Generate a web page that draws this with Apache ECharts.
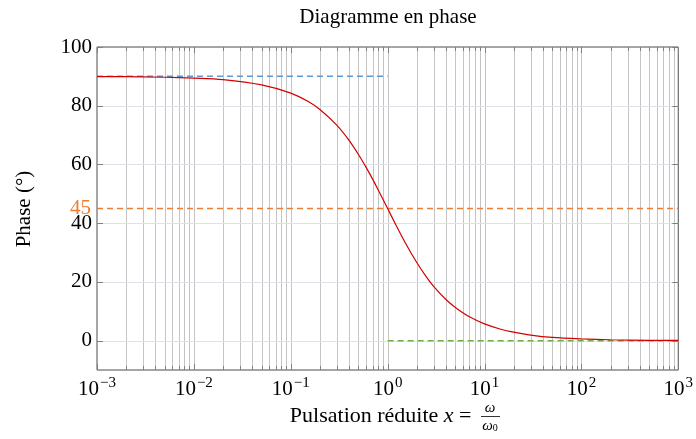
<!DOCTYPE html>
<html>
<head>
<meta charset="utf-8">
<script src="https://cdn.jsdelivr.net/npm/echarts@6/dist/echarts.min.js"></script>
<style>html,body{margin:0;padding:0;background:#fff}#c{width:696px;height:439px}</style>
</head>
<body>
<div id="c"></div>
<script>
// ---- data ----
var pulsation = [0.001, 0.002, 0.005, 0.01, 0.02, 0.05, 0.1, 0.15, 0.2, 0.3, 0.4, 0.5, 0.6, 0.7, 0.8, 1, 1.2, 1.5, 2, 2.5, 3, 4, 5, 7, 10, 15, 20, 30, 50, 100, 200, 500, 1000];
var phase     = [89.9, 89.9, 89.7, 89.4, 88.9, 87.1, 84.3, 81.5, 78.7, 73.3, 68.2, 63.4, 59.0, 55.0, 51.3, 45.0, 39.8, 33.7, 26.6, 21.8, 18.4, 14.0, 11.3, 8.1, 5.7, 3.8, 2.9, 1.9, 1.1, 0.6, 0.3, 0.1, 0.06];
var asymptoteLowX  = [0.001, 1];
var asymptoteLowY  = [90, 90];
var asymptoteHighX = [1, 1000];
var asymptoteHighY = [0, 0];
var cutoffX = [0.001, 1000];
var cutoffY = [45, 45];
var yTicks = [0, 20, 40, 60, 80, 100];
var yGridValues = [0, 20, 40, 60, 80];
var decadeExponents = [-3, -2, -1, 0, 1, 2, 3];

// tick / grid positions on the log axis (decades and their subdivisions)
var xGridValues = [];
for (var i = 0; i < decadeExponents.length; i++) {
  var d = Math.pow(10, decadeExponents[i]);
  xGridValues.push([d, 0, 1]);
  if (i < decadeExponents.length - 1) {
    for (var m = 2; m <= 9; m++) xGridValues.push([m * d, 0, 0]);
  }
}

function zip(a, b) { return a.map(function (v, k) { return [v, b[k]]; }); }

var SERIF = '"Liberation Serif", "DejaVu Serif", serif';
var chart = echarts.init(document.getElementById('c'), null, {renderer: 'canvas'});

var option = {
  animation: false,
  backgroundColor: '#ffffff',
  grid: {left: 97, right: 16, top: 47, bottom: 69, show: true, borderColor: '#4d4d4d', borderWidth: 1, backgroundColor: 'transparent'},
  xAxis: {
    type: 'log', logBase: 10, min: 0.001, max: 1000, splitNumber: 6,
    axisLine: {show: false}, axisTick: {show: false}, splitLine: {show: false},
    axisLabel: {
      margin: 6,
      formatter: function (v) {
        var e = Math.round(Math.log10(v));
        return '{b|10}{s|' + (e < 0 ? '\u2212' + (-e) : e) + '}';
      },
      rich: {
        b: {fontFamily: SERIF, fontSize: 21, color: '#000'},
        s: {fontFamily: SERIF, fontSize: 15, color: '#000', padding: [0, 0, 11, 1]}
      }
    }
  },
  yAxis: {
    type: 'value', min: -10, max: 100, interval: 10,
    axisLine: {show: false}, axisTick: {show: false}, splitLine: {show: false},
    axisLabel: {
      margin: 5, fontFamily: SERIF, fontSize: 21, color: '#000',
      formatter: function (v) { return (yTicks.indexOf(v) >= 0) ? String(v) : ''; }
    }
  },
  graphic: [
    {type: 'text', x: 388, y: 17, style: {text: 'Diagramme en phase', font: '21px ' + SERIF, fill: '#000', align: 'center', verticalAlign: 'middle'}},
    {type: 'text', x: 24, y: 209, rotation: Math.PI / 2, style: {text: 'Phase (\u00b0)', font: '21px ' + SERIF, fill: '#000', align: 'center', verticalAlign: 'middle'}},
    {type: 'text', x: 477, y: 416, style: {
      text: 'Pulsation r\u00e9duite {i|x} = ', font: '22px ' + SERIF, fill: '#000', align: 'right', verticalAlign: 'middle',
      rich: {i: {fontFamily: SERIF, fontStyle: 'italic', fontSize: 22}}
    }},
    {type: 'text', x: 490, y: 408, style: {text: '\u03c9', font: 'italic 15px ' + SERIF, fill: '#000', align: 'center', verticalAlign: 'middle'}},
    {type: 'line', shape: {x1: 481, y1: 416.5, x2: 500, y2: 416.5}, style: {stroke: '#000', lineWidth: 0.8}},
    {type: 'text', x: 490, y: 426, style: {
      text: '{w|\u03c9}{z|0}', align: 'center', verticalAlign: 'middle',
      rich: {w: {fontFamily: SERIF, fontStyle: 'italic', fontSize: 15, fill: '#000'}, z: {fontFamily: SERIF, fontSize: 10, padding: [5, 0, 0, 0], fill: '#000'}}
    }}
  ],
  series: [
    {
      type: 'custom', name: 'xgrid', silent: true, z: 1, clip: false,
      encode: {x: 0, y: 1},
      data: xGridValues,
      renderItem: function (params, api) {
        var cs = params.coordSys;
        var x = Math.round(api.coord([api.value(0), 0])[0]) + 0.5;
        var major = api.value(2) === 1;
        var top = cs.y, bot = cs.y + cs.height;
        var len = major ? 6 : 4;
        var children = [];
        if (x > cs.x + 1 && x < cs.x + cs.width - 1) {
          children.push({type: 'line', shape: {x1: x, y1: top, x2: x, y2: bot}, style: {stroke: '#c4c4c4', lineWidth: 1}});
        }
        children.push({type: 'line', shape: {x1: x, y1: bot - len, x2: x, y2: bot}, style: {stroke: '#808080', lineWidth: 1}});
        children.push({type: 'line', shape: {x1: x, y1: top, x2: x, y2: top + len}, style: {stroke: '#808080', lineWidth: 1}});
        return {type: 'group', children: children};
      }
    },
    {
      type: 'custom', name: 'ygrid', silent: true, z: 1, clip: false,
      encode: {x: 0, y: 1},
      data: yTicks.map(function (v) { return [1, v]; }),
      renderItem: function (params, api) {
        var cs = params.coordSys;
        var v = api.value(1);
        var y = Math.round(api.coord([1, v])[1]) + 0.5;
        var l = cs.x, r = cs.x + cs.width;
        var children = [];
        if (yGridValues.indexOf(v) >= 0) {
          children.push({type: 'line', shape: {x1: l, y1: y, x2: r, y2: y}, style: {stroke: '#dde1ea', lineWidth: 1}});
        }
        children.push({type: 'line', shape: {x1: l, y1: y, x2: l + 6, y2: y}, style: {stroke: '#808080', lineWidth: 1}});
        children.push({type: 'line', shape: {x1: r - 6, y1: y, x2: r, y2: y}, style: {stroke: '#808080', lineWidth: 1}});
        return {type: 'group', children: children};
      }
    },
    {
      type: 'line', name: 'low', z: 3, symbol: 'none', silent: true,
      data: zip(asymptoteLowX, asymptoteLowY),
      lineStyle: {color: '#5b9bd5', width: 1.5, type: [6, 4]}
    },
    {
      type: 'line', name: 'high', z: 3, symbol: 'none', silent: true,
      data: zip(asymptoteHighX, asymptoteHighY),
      lineStyle: {color: '#70ad47', width: 1.5, type: [6, 4]}
    },
    {
      type: 'line', name: 'cut', z: 3, symbol: 'none', silent: true,
      data: zip(cutoffX, cutoffY),
      lineStyle: {color: '#ed7d31', width: 1.5, type: [6, 4]},
      markLine: {
        silent: true, symbol: 'none', animation: false,
        lineStyle: {color: 'rgba(0,0,0,0)', width: 0.01, type: 'solid'},
        label: {show: true, position: 'start', distance: 6, formatter: String(cutoffY[0]), color: '#ed7d31', fontFamily: SERIF, fontSize: 21, opacity: 1},
        data: [{yAxis: cutoffY[0]}]
      }
    },
    {
      type: 'line', name: 'phase', z: 4, symbol: 'none', smooth: 0.3, silent: true,
      data: zip(pulsation, phase),
      lineStyle: {color: '#d40000', width: 1.2}
    }
  ]
};
chart.setOption(option);
</script>
</body>
</html>
